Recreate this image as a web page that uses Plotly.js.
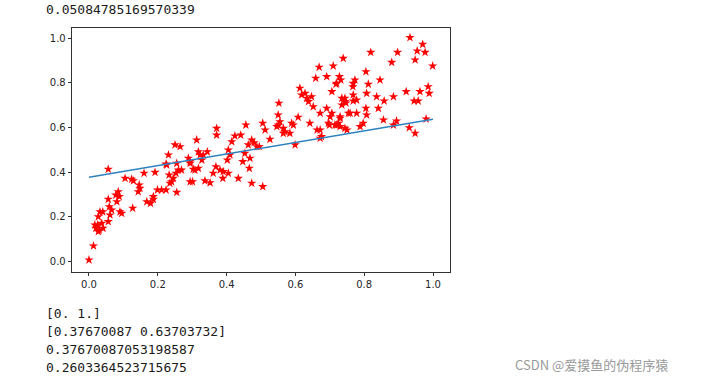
<!DOCTYPE html>
<html>
<head>
<meta charset="utf-8">
<script src="https://cdn.plot.ly/plotly-3.0.1.min.js"></script>
<style>
  html, body { margin: 0; padding: 0; background: #fff; }
  #chart { width: 703px; height: 381px; }
</style>
</head>
<body>
<div id="chart"></div>
<script>
// Scatter data
const xs = [
  0.000, 0.013, 0.056, 0.020, 0.027, 0.017, 0.025, 0.030, 0.041, 0.037,
  0.027, 0.032, 0.040, 0.056, 0.061, 0.066, 0.059, 0.056, 0.081, 0.085,
  0.078, 0.088, 0.090, 0.095, 0.127, 0.105, 0.124, 0.129, 0.146, 0.148,
  0.143, 0.160, 0.192, 0.168, 0.179, 0.187, 0.199, 0.211, 0.224, 0.255,
  0.224, 0.233, 0.235, 0.245, 0.253, 0.260, 0.294, 0.301, 0.294, 0.308,
  0.187, 0.226, 0.231, 0.250, 0.265, 0.255, 0.269, 0.240, 0.289, 0.294,
  0.313, 0.318, 0.323, 0.332, 0.328, 0.344, 0.303, 0.318, 0.337, 0.352,
  0.361, 0.369, 0.381, 0.390, 0.405, 0.389, 0.434, 0.371, 0.371, 0.402,
  0.405, 0.415, 0.424, 0.441, 0.456, 0.463, 0.473, 0.480, 0.488, 0.453,
  0.447, 0.468, 0.466, 0.473, 0.505, 0.505, 0.512, 0.526, 0.495, 0.550,
  0.550, 0.552, 0.410,
  0.613, 0.618, 0.628, 0.633, 0.647, 0.638, 0.652, 0.555, 0.546, 0.565,
  0.570, 0.584, 0.589, 0.594, 0.608, 0.642, 0.599, 0.672, 0.691, 0.706,
  0.672, 0.663, 0.676, 0.672, 0.696, 0.701, 0.730, 0.725, 0.730, 0.744,
  0.750, 0.735, 0.744, 0.759, 0.778, 0.807, 0.797, 0.788, 0.706, 0.720,
  0.768, 0.768, 0.778, 0.807,
  0.933, 0.970, 0.977, 0.954, 0.948, 0.999, 0.819, 0.897, 0.880, 0.739,
  0.710, 0.805, 0.728, 0.773, 0.767, 0.718, 0.846, 0.812, 0.836, 0.858,
  0.885, 0.922, 0.962, 0.986, 0.989, 0.945, 0.957, 0.744, 0.768, 0.805,
  0.720, 0.841, 0.856, 0.885, 0.894, 0.931, 0.948, 0.980,
  0.669, 0.691, 0.659, 0.732, 0.735,
  0.565, 0.699, 0.715, 0.730, 0.754, 0.747
];
const ys = [
  0.006, 0.069, 0.413, 0.148, 0.133, 0.163, 0.163, 0.140, 0.148, 0.170,
  0.200, 0.222, 0.222, 0.178, 0.208, 0.230, 0.245, 0.278, 0.267, 0.312,
  0.297, 0.290, 0.222, 0.215, 0.238, 0.372, 0.368, 0.361, 0.342, 0.327,
  0.312, 0.395, 0.399, 0.267, 0.260, 0.278, 0.320, 0.320, 0.320, 0.309,
  0.436, 0.387, 0.350, 0.372, 0.395, 0.409, 0.357, 0.357, 0.447, 0.409,
  0.290, 0.432, 0.477, 0.522, 0.514, 0.439, 0.409, 0.357, 0.462, 0.439,
  0.544, 0.491, 0.477, 0.477, 0.454, 0.491, 0.413, 0.417, 0.361, 0.352,
  0.395, 0.424, 0.409, 0.402, 0.395, 0.372, 0.372, 0.596, 0.566, 0.454,
  0.499, 0.536, 0.562, 0.566, 0.611, 0.522, 0.544, 0.532, 0.514, 0.484,
  0.447, 0.462, 0.417, 0.350, 0.335, 0.619, 0.589, 0.547, 0.514, 0.656,
  0.611, 0.709, 0.477,
  0.776, 0.746, 0.753, 0.731, 0.738, 0.716, 0.693, 0.626, 0.604, 0.596,
  0.581, 0.574, 0.619, 0.611, 0.646, 0.619, 0.522, 0.664, 0.686, 0.664,
  0.589, 0.589, 0.559, 0.552, 0.619, 0.648, 0.648, 0.619, 0.604, 0.596,
  0.589, 0.701, 0.716, 0.664, 0.664, 0.656, 0.619, 0.604, 0.761, 0.798,
  0.798, 0.746, 0.723, 0.753,
  1.003, 0.973, 0.937, 0.943, 0.903, 0.876, 0.937, 0.937, 0.892, 0.910,
  0.876, 0.850, 0.828, 0.813, 0.783, 0.794, 0.813, 0.794, 0.738, 0.719,
  0.738, 0.761, 0.761, 0.783, 0.753, 0.719, 0.719, 0.731, 0.719, 0.686,
  0.611, 0.686, 0.634, 0.611, 0.629, 0.599, 0.574, 0.638,
  0.870, 0.828, 0.821, 0.813, 0.731,
  0.574, 0.611, 0.611, 0.641, 0.664, 0.710
];
// Fitted line endpoints
const lineX = [0, 1];
const lineY = [0.37670087, 0.63703732];
// Axis ticks
const tickVals = [0, 0.2, 0.4, 0.6, 0.8, 1.0];
const tickText = ["0.0", "0.2", "0.4", "0.6", "0.8", "1.0"];
// Printed output text
const topText = "0.05084785169570339";
const bottomLines = ["[0. 1.]", "[0.37670087 0.63703732]", "0.37670087053198587", "0.2603364523715675"];
const watermark = "CSDN @爱摸鱼的伪程序猿";

const mono = {family: "DejaVu Sans Mono, monospace", size: 13, color: "#1a1a1a"};
const annotations = [
  {text: topText, xref: "paper", yref: "paper", x: -0.074, y: 1.074, xanchor: "left", yanchor: "middle", showarrow: false, font: mono}
];
const lineYs = [-0.172, -0.243, -0.317, -0.391];
bottomLines.forEach((t, i) => annotations.push({
  text: t, xref: "paper", yref: "paper", x: -0.074, y: lineYs[i], xanchor: "left", yanchor: "middle", showarrow: false, font: mono
}));
annotations.push({
  text: watermark, xref: "paper", yref: "paper", x: 1.167, y: -0.381, xanchor: "left", yanchor: "middle", showarrow: false,
  font: {family: "Noto Sans CJK SC, sans-serif", size: 13, color: "#999999"}
});

const traces = [
  {x: xs, y: ys, type: "scatter", mode: "markers",
   marker: {symbol: "star", size: 7, color: "red", line: {width: 0}}, cliponaxis: false},
  {x: lineX, y: lineY, type: "scatter", mode: "lines",
   line: {color: "#2e82bf", width: 1.5}}
];

const axisCommon = {
  showgrid: false, zeroline: false, showline: true, mirror: true,
  linecolor: "#000", linewidth: 0.8, ticks: "outside", ticklen: 3.5, tickwidth: 0.8, tickcolor: "#000",
  tickvals: tickVals, ticktext: tickText,
  tickfont: {family: "DejaVu Sans, sans-serif", size: 10, color: "#262626"}
};

const layout = {
  width: 703, height: 381,
  margin: {l: 72, r: 253, t: 28, b: 109},
  paper_bgcolor: "#fff", plot_bgcolor: "#fff",
  showlegend: false,
  xaxis: Object.assign({}, axisCommon, {range: [-0.0494, 1.0494]}),
  yaxis: Object.assign({}, axisCommon, {range: [-0.048, 1.046]}),
  annotations: annotations
};

Plotly.newPlot("chart", traces, layout, {staticPlot: true, displayModeBar: false});
</script>
</body>
</html>
